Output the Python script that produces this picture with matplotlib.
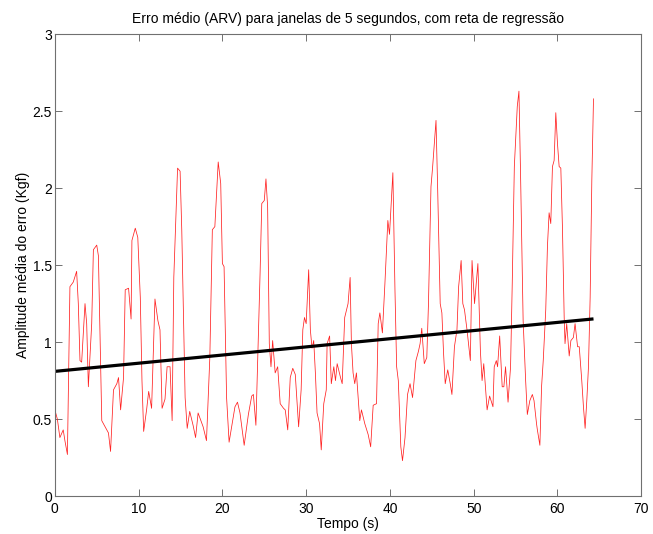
import matplotlib
matplotlib.use("Agg")
import matplotlib.pyplot as plt
import numpy as np

plt.rcParams["font.family"] = ["Liberation Sans", "DejaVu Sans"]

# ARV error per 5 s window (time in s, amplitude in Kgf)
tempo = [
    0.1, 0.3, 0.6, 1.0, 1.2, 1.5, 1.8, 2.2, 2.6, 2.8, 3.0, 3.2, 3.6, 3.8, 4.0,
    4.4, 4.6, 5.0, 5.2, 5.6, 6.0, 6.4, 6.65, 7.0, 7.4, 7.6, 7.85, 8.2, 8.4, 8.8,
    9.1, 9.2, 9.6, 9.9, 10.2, 10.4, 10.6, 10.95, 11.2, 11.55, 11.95, 12.3, 12.55,
    12.8, 13.15, 13.4, 13.75, 14.0, 14.2, 14.65, 14.95, 15.15, 15.55, 15.8, 16.1,
    16.5, 16.8, 17.1,
    17.7, 18.1, 18.5, 18.8, 19.1, 19.5, 19.8, 20.0, 20.2, 20.5, 20.8, 21.1, 21.5,
    21.8, 22.1, 22.6, 23.1, 23.5, 23.7, 24.0, 24.5, 24.7, 25.0, 25.2, 25.4, 25.6,
    25.8, 26.0, 26.3, 26.6, 26.9, 27.3, 27.5, 27.8, 28.1, 28.4, 28.7, 29.1, 29.4,
    29.6, 29.8, 30.0, 30.3, 30.5, 30.7, 30.9, 31.1, 31.3, 31.6, 31.8, 32.1, 32.4,
    32.5, 32.8, 33.0, 33.3, 33.5, 33.7, 34.1, 34.3,
    34.6, 35.0, 35.25, 35.4, 35.6, 35.8, 36.0, 36.4, 36.6, 37.0, 37.4, 37.7, 38.0,
    38.4, 38.6, 38.8, 39.1, 39.4, 39.75, 39.95, 40.35, 40.6, 40.8, 41.0, 41.3,
    41.5, 41.8, 42.1, 42.4, 42.7, 43.1, 43.4, 43.6, 43.8, 44.1, 44.4, 44.6, 44.9,
    45.1, 45.5, 45.7, 46.0, 46.2, 46.4, 46.6, 46.9, 47.2, 47.4, 47.7, 48.0, 48.2,
    48.5, 48.7, 48.9, 49.2, 49.6, 49.8, 50.1, 50.5, 50.8, 51.0, 51.2, 51.6, 51.9,
    52.3, 52.45, 52.7, 52.85, 53.1, 53.4, 53.6, 53.8, 54.1, 54.4, 54.6, 54.85,
    55.2, 55.4, 55.6, 55.9, 56.2, 56.4, 56.7, 57.0, 57.2, 57.5, 57.6, 57.9, 58.1,
    58.3, 58.6, 58.8, 59.0, 59.2, 59.4, 59.6, 59.8, 60.0, 60.2, 60.4, 60.6, 60.8,
    60.9, 61.1, 61.4, 61.6, 61.9, 62.1, 62.4, 62.6, 62.9, 63.1, 63.3, 63.5, 63.7,
    63.9, 64.1, 64.3,
]
erro_arv = [
    0.54, 0.50, 0.38, 0.43, 0.36, 0.27, 1.36, 1.39, 1.46, 1.25, 0.88, 0.87, 1.25,
    1.12, 0.71, 1.12, 1.60, 1.63, 1.56, 0.49, 0.45, 0.41, 0.29, 0.69, 0.73, 0.77,
    0.56, 0.77, 1.34, 1.35, 1.15, 1.66, 1.74, 1.68, 1.29, 0.75, 0.42, 0.56, 0.68,
    0.57, 1.28, 1.14, 1.08, 0.57, 0.63, 0.84, 0.84, 0.49, 1.42, 2.13, 2.11, 1.73,
    0.64, 0.44, 0.55, 0.46, 0.38, 0.54,
    0.45, 0.36, 0.90, 1.73, 1.75, 2.17, 2.03, 1.51, 1.49, 0.64, 0.35, 0.45, 0.58,
    0.61, 0.54, 0.33, 0.53, 0.65, 0.66, 0.46, 1.45, 1.90, 1.92, 2.06, 1.88, 0.99,
    0.84, 1.01, 0.80, 0.84, 0.60, 0.57, 0.56, 0.43, 0.77, 0.83, 0.79, 0.45, 0.69,
    1.08, 1.16, 1.12, 1.47, 1.08, 0.96, 1.01, 0.80, 0.54, 0.47, 0.30, 0.60, 0.69,
    0.99, 1.04, 0.73, 0.84, 0.75, 0.86, 0.77, 0.73,
    1.16, 1.25, 1.42, 0.99, 0.80, 0.73, 0.80, 0.49, 0.56, 0.47, 0.40, 0.32, 0.59,
    0.60, 1.12, 1.19, 1.06, 1.38, 1.79, 1.70, 2.10, 1.34, 0.84, 0.75, 0.32, 0.23,
    0.38, 0.66, 0.73, 0.64, 0.88, 0.94, 0.99, 1.09, 0.86, 0.90, 1.25, 2.01, 2.14,
    2.44, 1.99, 1.25, 1.19, 0.93, 0.73, 0.82, 0.73, 0.66, 0.97, 1.08, 1.36, 1.53,
    1.25, 1.21, 1.08, 0.88, 1.53, 1.25, 1.51, 0.94, 0.75, 0.86, 0.56, 0.65,
    0.58, 0.84, 0.88, 0.84, 1.04, 0.71, 0.71, 0.84, 0.61, 0.84, 1.38, 2.14, 2.53,
    2.63, 2.07, 1.14, 0.75, 0.53, 0.62, 0.66, 0.62, 0.47, 0.43, 0.33, 0.71, 0.88,
    1.21, 1.62, 1.84, 1.77, 2.14, 2.18, 2.49, 2.29, 2.14, 2.13, 1.73, 1.16, 0.99,
    1.12, 0.91, 1.01, 1.03, 1.12, 0.97, 0.97, 0.75, 0.58, 0.44, 0.62, 0.84, 1.29,
    2.05, 2.58,
]

# regression line coefficients
reg_intercept = 0.81
reg_slope = 0.0053

x_ticks = [0, 10, 20, 30, 40, 50, 60, 70]
y_ticks = [0, 0.5, 1, 1.5, 2, 2.5, 3]
y_ticklabels = ["0", "0.5", "1", "1.5", "2", "2.5", "3"]

t = np.array(tempo)
reg_t = np.array([0.0, t[-1]])
reg_y = reg_intercept + reg_slope * reg_t

fig = plt.figure(figsize=(6.53, 5.34), dpi=100)
ax = fig.add_axes([0.084, 0.071, 0.898, 0.865])

ax.plot(t, erro_arv, color="#ff2020", linewidth=0.55)
ax.plot(reg_t, reg_y, color="black", linewidth=2.3, solid_capstyle="butt")

ax.set_xlim(0, 70)
ax.set_ylim(0, 3)
ax.set_xticks(x_ticks)
ax.set_yticks(y_ticks)
ax.set_yticklabels(y_ticklabels)

for sp in ax.spines.values():
    sp.set_color("#707070")
    sp.set_linewidth(0.8)
ax.tick_params(direction="in", top=True, right=True, length=5, width=0.7,
               color="#707070", labelsize=10)
ax.tick_params(axis="x", pad=4)
ax.tick_params(axis="y", pad=2)

ax.set_xlabel("Tempo (s)", fontsize=10, labelpad=1)
ax.set_ylabel("Amplitude média do erro (Kgf)", fontsize=10, labelpad=2)
ax.set_title("Erro médio (ARV) para janelas de 5 segundos, com reta de regressão",
             fontsize=10, pad=8)

fig.savefig("out.png", dpi=100)
